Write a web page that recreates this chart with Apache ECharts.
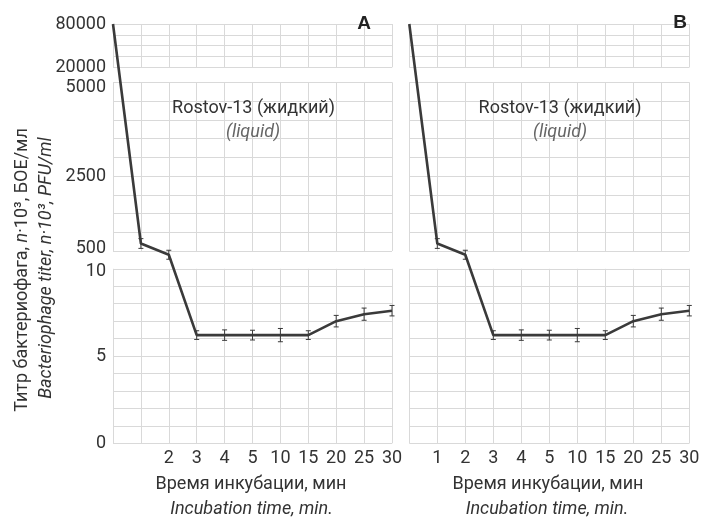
<!DOCTYPE html>
<html><head><meta charset="utf-8">
<script src="https://cdn.jsdelivr.net/npm/echarts@6/dist/echarts.min.js"></script>
<style>html,body{margin:0;padding:0;background:#fff}#c{width:701px;height:517px}</style>
</head><body><div id="c"></div>
<script>
// ---- data ----
const categories = ['0','1','2','3','4','5','10','15','20','25','30'];
const tickLabelsA = ['', '', '2','3','4','5','10','15','20','25','30'];
const tickLabelsB = ['', '1','2','3','4','5','10','15','20','25','30'];
const titerA = [80000, 700, 400, 6.2, 6.2, 6.2, 6.2, 6.2, 7.0, 7.4, 7.6];
const errA   = [null, 130, 120, 0.25, 0.3, 0.28, 0.38, 0.25, 0.33, 0.35, 0.3];
const titerB = [80000, 700, 400, 6.2, 6.2, 6.2, 6.2, 6.2, 7.0, 7.4, 7.6];
const errB   = [null, 130, 120, 0.25, 0.3, 0.28, 0.38, 0.25, 0.33, 0.35, 0.3];
const yTicksTop = [20000, 80000];
const yTicksMid = [500, 2500, 5000];
const yTicksBot = [0, 5, 10];

// ---- layout (broken y axis) ----
const FONT = 'Roboto, "Liberation Sans", sans-serif';
const TXT = '#333';
const GRIDC = '#d9d9d9';
const PLOT_TOP = 24, PLOT_BOT = 443.3;
const SEG = {
  top: {y0: 24,    y1: 67.3,  vmax: 80000, vmin: 20000, interval: 15000},
  mid: {y0: 82.3,  y1: 251,   vmax: 5000,  vmin: 500,   interval: 500},
  bot: {y0: 268.8, y1: 443.3, vmax: 10,    vmin: 0,     interval: 1}
};
// broken-scale transform: value -> overlay axis unit (px from bottom)
function T(v){
  const s = v >= SEG.top.vmin ? SEG.top : (v > SEG.bot.vmax ? SEG.mid : SEG.bot);
  const y = s.y1 + (v - s.vmin) / (s.vmax - s.vmin) * (s.y0 - s.y1);
  return PLOT_BOT - y;
}
const panels = [
  {left: 113, width: 279, labels: tickLabelsA, vals: titerA, errs: errA, yLabels: true},
  {left: 409.3, width: 280, labels: tickLabelsB, vals: titerB, errs: errB, yLabels: false}
];
const ticksFor = {top: yTicksTop, mid: yTicksMid, bot: yTicksBot};
const richFor = {
  n: {fontSize: 18, fontFamily: FONT, color: TXT},
  dn: {fontSize: 18, fontFamily: FONT, color: TXT, padding: [10,0,0,0]},
  dn2: {fontSize: 18, fontFamily: FONT, color: TXT, padding: [6,0,0,0]},
  up: {fontSize: 18, fontFamily: FONT, color: TXT, padding: [0,0,6,0]}
};
function labelStyle(seg, v){
  if (seg === 'mid' && v === 5000) return 'dn';
  if (seg === 'mid' && v === 500) return 'up';
  if (seg === 'bot' && v === 10) return 'dn2';
  return 'n';
}

const grid = [], xAxis = [], yAxis = [], series = [];
panels.forEach((p) => {
  ['top','mid','bot'].forEach((k) => {
    const s = SEG[k];
    const gi = grid.length;
    grid.push({left: p.left, width: p.width, top: s.y0, height: s.y1 - s.y0,
               containLabel: false, outerBoundsMode: 'none'});
    xAxis.push({
      type: 'category', gridIndex: gi, data: k === 'bot' ? p.labels : categories,
      boundaryGap: false,
      axisLine: {show: false}, axisTick: {show: false},
      axisLabel: {show: k === 'bot', interval: 0, fontSize: 18, fontFamily: FONT, color: TXT, margin: 6},
      splitLine: {show: true, lineStyle: {color: GRIDC, width: 1}}
    });
    yAxis.push({
      type: 'value', gridIndex: gi, min: s.vmin, max: s.vmax, interval: s.interval,
      axisLine: {show: false}, axisTick: {show: false},
      axisLabel: {show: p.yLabels, margin: 7, fontSize: 18, fontFamily: FONT, color: TXT,
        rich: richFor,
        formatter: (v) => ticksFor[k].includes(v) ? '{' + labelStyle(k, v) + '|' + v + '}' : ''},
      splitLine: {show: true, lineStyle: {color: GRIDC, width: 1}}
    });
  });
  // overlay grid for the data (broken scale)
  const oi = grid.length;
  grid.push({left: p.left, width: p.width, top: PLOT_TOP, height: PLOT_BOT - PLOT_TOP,
             containLabel: false, outerBoundsMode: 'none'});
  xAxis.push({type: 'category', gridIndex: oi, data: categories, boundaryGap: false, show: false});
  yAxis.push({type: 'value', gridIndex: oi, min: 0, max: PLOT_BOT - PLOT_TOP, show: false});
  series.push({
    type: 'line', xAxisIndex: oi, yAxisIndex: oi, clip: false,
    data: p.vals.map(T), symbol: 'none', z: 5,
    lineStyle: {color: '#3a3a3a', width: 2.6}
  });
  const eb = [];
  p.errs.forEach((e, i) => { if (e != null) eb.push([i, T(p.vals[i] - e), T(p.vals[i] + e)]); });
  series.push({
    type: 'custom', xAxisIndex: oi, yAxisIndex: oi, clip: false, z: 6,
    data: eb,
    renderItem: (params, api) => {
      const lo = api.coord([api.value(0), api.value(1)]);
      const hi = api.coord([api.value(0), api.value(2)]);
      const w = 2.5;
      const st = {stroke: '#3a3a3a', lineWidth: 1};
      return {type: 'group', children: [
        {type: 'line', shape: {x1: lo[0], y1: lo[1], x2: hi[0], y2: hi[1]}, style: st},
        {type: 'line', shape: {x1: lo[0]-w, y1: lo[1], x2: lo[0]+w, y2: lo[1]}, style: st},
        {type: 'line', shape: {x1: hi[0]-w, y1: hi[1], x2: hi[0]+w, y2: hi[1]}, style: st}
      ]};
    }
  });
});

function txt(x, y, text, opts){
  return Object.assign({type: 'text', x: x, y: y, z: 10,
    style: Object.assign({text: text, fontFamily: FONT, fontSize: 18, fill: TXT,
      align: 'center', verticalAlign: 'middle'}, opts || {})});
}
const graphic = [
  txt(364, 24, 'A', {fontFamily: '"Liberation Sans", Arial, sans-serif', fontWeight: 'bold', fontSize: 19, fill: '#222'}),
  txt(680, 23, 'B', {fontFamily: '"Liberation Sans", Arial, sans-serif', fontWeight: 'bold', fontSize: 19, fill: '#222'}),
  txt(253.5, 108, 'Rostov-13 (жидкий)'),
  txt(253, 132, '(liquid)', {fontStyle: 'italic', fill: '#666'}),
  txt(560, 108, 'Rostov-13 (жидкий)'),
  txt(560, 132, '(liquid)', {fontStyle: 'italic', fill: '#666'}),
  txt(251, 484, 'Время инкубации, мин'),
  txt(251.5, 509, 'Incubation time, min.', {fontStyle: 'italic'}),
  txt(548, 484, 'Время инкубации, мин'),
  txt(547, 509, 'Incubation time, min.', {fontStyle: 'italic'}),
  Object.assign(txt(22, 270, '{a|Титр бактериофага, }{i|n}{a|·10³, БОЕ/мл}', {
    rich: {a: {fontFamily: FONT, fontSize: 18, fill: TXT}, i: {fontFamily: FONT, fontSize: 18, fill: TXT, fontStyle: 'italic'}}
  }), {rotation: Math.PI / 2}),
  Object.assign(txt(46, 268, 'Bacteriophage titer, n·10³, PFU/ml', {fontStyle: 'italic'}), {rotation: Math.PI / 2})
];

const chart = echarts.init(document.getElementById('c'), null, {renderer: 'canvas'});
chart.setOption({animation: false, backgroundColor: '#fff', grid, xAxis, yAxis, series, graphic});
</script></body></html>
